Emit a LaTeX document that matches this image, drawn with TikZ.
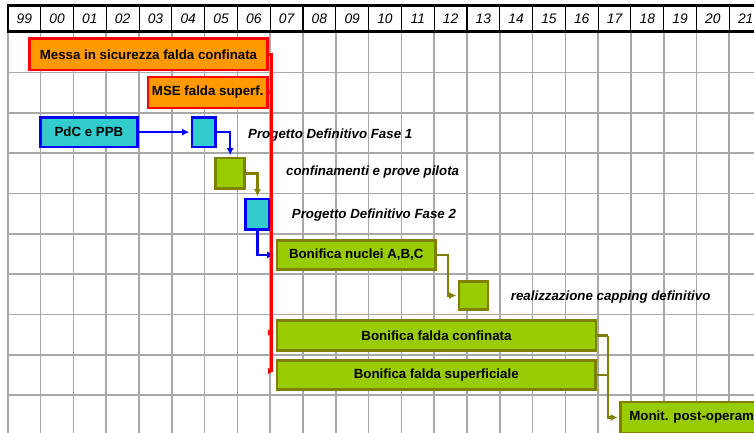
\documentclass[tikz,border=0pt]{standalone}
\usepackage{fontspec}
\setmainfont{Liberation Sans}
\usetikzlibrary{arrows.meta}
\definecolor{orng}{HTML}{FF9900}
\definecolor{rd}{HTML}{FF0000}
\definecolor{cyn}{HTML}{33CCCC}
\definecolor{blu}{HTML}{0000FF}
\definecolor{grn}{HTML}{99CC00}
\definecolor{olv}{HTML}{808000}
\definecolor{grd}{HTML}{A8A8A8}
\begin{document}
\begin{tikzpicture}[x=1pt,y=-1pt,
 font=\fontsize{13.3}{15}\selectfont\bfseries,
 box/.style={draw, line width=2.8pt, inner sep=0pt, text=black},
 redbox/.style={box, draw=rd, fill=orng},
 bluebox/.style={box, draw=blu, fill=cyn},
 greenbox/.style={box, draw=olv, fill=grn},
 rline/.style={draw=rd, line width=2.6pt},
 bline/.style={draw=blu, line width=2.2pt},
 oline/.style={draw=olv, line width=2.2pt},
 tip/.style={-{Latex[length=7pt,width=7pt]}, shorten >=1.4pt},
 rtip/.style={-{Latex[length=6pt,width=6.5pt]}},
 lbl/.style={anchor=west, inner sep=0pt, font=\fontsize{13.3}{15}\selectfont\bfseries\itshape},
 yr/.style={inner sep=0pt, font=\fontsize{13.8}{15}\selectfont\itshape},
 gridline/.style={draw=grd, line width=1.6pt},
]
\useasboundingbox (0,0) rectangle (754,432);
\begin{scope}
\clip (0,0) rectangle (754,432);
% body grid
\foreach \i in {0,...,22} \draw[gridline] ({7.9+32.79*\i},31.5) -- ({7.9+32.79*\i},440);
\foreach \k in {1,...,9} \draw[gridline] (7.9,{32.3+40.3*\k}) -- (760,{32.3+40.3*\k});
% header
\fill[white] (7.9,5.5) rectangle (760,31.5);
\foreach \i in {1,...,22} \draw[black, line width=1.1pt] ({7.9+32.79*\i},5.5) -- ({7.9+32.79*\i},31.5);
\draw[black,line width=2.2pt] (760,5.5) -- (7.9,5.5) -- (7.9,31.5) -- (760,31.5);
\foreach \lab [count=\i from 0] in {99,00,01,02,03,04,05,06,07,08,09,10,11,12,13,14,15,16,17,18,19,20,21}
  \node[yr] (h\i) at ({7.9+32.79*(\i+0.5)},18.5) {\lab};

% boxes
\node[redbox, minimum width=238, minimum height=31.5] (messa) at (148.5,54.25) {Messa in sicurezza falda confinata};
\node[redbox, minimum width=119.5, minimum height=31] (mse) at (207.75,92.5) {MSE falda superf.};
\node[bluebox, minimum width=97.2, minimum height=29.7] (pdc) at (88.9,132.15) {PdC e PPB};
\node[bluebox, minimum width=23.5, minimum height=29.7] (pa) at (203.75,132.15) {};
\node[greenbox, minimum width=29.3, minimum height=30.8] (conf) at (230.15,173.4) {};
\node[bluebox, minimum width=24.2, minimum height=30.5] (pb) at (257.4,214.25) {};
\node[greenbox, minimum width=158.5, minimum height=29.2] (nuc) at (356.25,254.9) {Bonifica nuclei A,B,C};
\node[greenbox, minimum width=29, minimum height=28.5] (cap) at (473.5,295.55) {};
\node[greenbox, minimum width=319, minimum height=30] (bfc) at (436.5,335.5) {Bonifica falda confinata};
\node[greenbox, minimum width=318.5, minimum height=29.5] (bfs) at (436.25,375.05) {Bonifica falda superficiale};
\node[greenbox, anchor=west, inner xsep=9pt, minimum height=31] (mon) at (619,417.5) {Monit. post-operam};

% labels
\node[lbl] (l1) at (248,135) {Progetto Definitivo Fase 1};
\node[lbl] (l2) at (286,172.5) {confinamenti e prove pilota};
\node[lbl] (l3) at (291.7,215) {Progetto Definitivo Fase 2};
\node[lbl] (l4) at (510.7,297.5) {realizzazione capping definitivo};

% blue / olive connectors
\draw[bline,tip] (pdc.east) -- (pa.west);
\draw[bline,tip] (pa.east) -| (conf.north);
\draw[oline,tip] (conf.east) -| (pb.north);
\draw[bline,tip] (pb.south) |- (nuc.west);
\draw[oline,tip] (nuc.east) -- ++(11,0) |- (cap.west);
\draw[oline] (bfc.east) -- ++(10.5,0) coordinate (j1);
\draw[oline] (bfs.east) -- (bfs.east -| j1);
\draw[oline,tip] (j1) |- (mon.west);

% red connectors
\coordinate (rx) at (271.7,0);
\coordinate (r1) at ([yshift=3pt,xshift=-1.4pt]bfc.west);
\coordinate (r2) at ([yshift=4pt,xshift=-1.4pt]bfs.west);
\draw[rline,rtip] (messa.east) -| (rx |- r2) -- (r2);
\draw[rline] (mse.east) -- (mse.east -| rx);
\draw[rline,rtip] (rx |- r1) -- (r1);
\end{scope}
\end{tikzpicture}
\end{document}
